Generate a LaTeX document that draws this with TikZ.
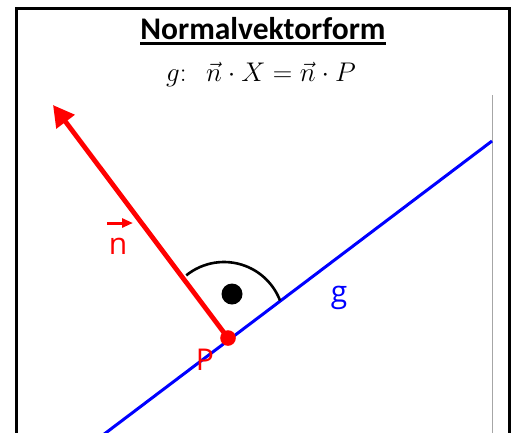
\RequirePackage{fix-cm}
\documentclass[tikz,border=0pt]{standalone}
\usepackage{fontspec}
\newfontfamily\titlefont{Carlito}
\newfontfamily\labfont{Open Sans}
\usetikzlibrary{arrows.meta}
\definecolor{ggblue}{RGB}{0,0,255}
\definecolor{ggred}{RGB}{255,0,0}
\tikzset{
  frame/.style={line width=3pt},
  guide/.style={draw=black!35, line width=1pt},
  gline/.style={draw=ggblue, line width=3pt},
  nvec/.style={draw=ggred, line width=4.8pt, -{Triangle[length=21pt,width=22pt]}},
  lab/.style={text=ggred, font=\labfont\fontsize{30}{30}\selectfont, inner sep=0pt, anchor=base},
}
\begin{document}
\begin{tikzpicture}[x=1pt,y=-1pt]
\useasboundingbox (0,0) rectangle (518,432);
\clip (0,0) rectangle (518,432);
\fill[white] (0,0) rectangle (518,432);
% frame
\draw[frame] (16,8) rectangle (509,450);
% title
\node[anchor=base, inner sep=0pt, font=\titlefont\bfseries\fontsize{31.5}{34}\selectfont] (title) at (263,39) {Normalvektorform};
\draw[line width=2.2pt] ([yshift=-4.5pt]title.base west) -- ([yshift=-4.5pt]title.base east);
\node[anchor=base, inner sep=0pt, font=\fontsize{27}{30}\selectfont] (eq) at (261,81) {$g\colon\;\;\vec{n}\cdot X=\vec{n}\cdot P$};
% guide line
\coordinate (gt) at (492,95);
\coordinate (gb) at (492,440);
\draw[guide] (gt) -- (gb);
% line g
\coordinate (b1) at (99,438);
\coordinate (b2) at (492,141);
\draw[gline] (b1) -- (b2);
% right angle mark
\coordinate (C) at (224,322);
\draw[line width=2.6pt] (C) ++(-129:60) arc[start angle=-129, end angle=-21, radius=60];
\fill (232,294) circle[radius=10.5];
% normal vector
\coordinate (P) at (228,338);
\coordinate (tip) at (53,105);
\draw[nvec] (P) -- (tip);
\fill[ggred] (P) circle[radius=7.8];
% labels
\node[lab] (nlab) at (118,254) {n};
\coordinate (na) at (107,223);
\coordinate (nb) at (133,223);
\draw[draw=ggred, line width=3pt, -{Triangle[length=11pt,width=9pt]}] (na) -- (nb);
\node[lab] (Plab) at (205,370) {P};
\node[lab, text=ggblue] (glab) at (339,302) {g};
\end{tikzpicture}
\end{document}
